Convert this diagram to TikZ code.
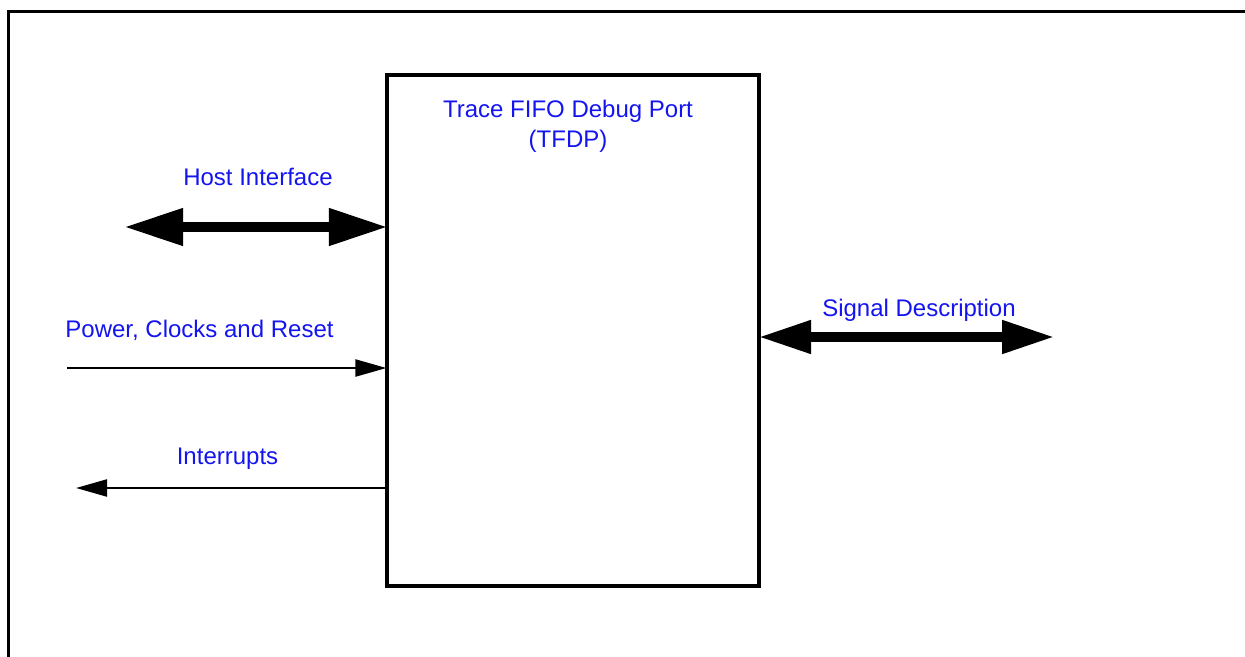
\documentclass[tikz,border=0pt]{standalone}
\usepackage{fontspec}
\setmainfont{Liberation Sans}
\usetikzlibrary{arrows.meta}
\definecolor{lblblue}{RGB}{20,20,240}
\tikzset{
  lbl/.style={text=lblblue, font=\fontsize{24}{29}\selectfont, inner sep=0pt, anchor=base},
  bigbus/.style={line width=10.5pt, arrows={Triangle[length=59pt,width=35pt]-Triangle[length=59pt,width=35pt]}},
  thinsig/.style={line width=2.2pt, -{Triangle[length=31pt,width=17pt]}},
  blockbox/.style={draw, line width=3.2pt, minimum width=372pt, minimum height=511pt, inner sep=0pt},
  frameline/.style={line width=3pt}
}
\begin{document}
\begin{tikzpicture}[x=1pt,y=-1pt]
\useasboundingbox (0,0) rectangle (1245,656);
% outer frame (top and left edges)
\coordinate (fbl) at (8,660);
\coordinate (ftl) at (8,11);
\coordinate (ftr) at (1250,11);
\draw[frameline] (fbl) -- (ftl) -- (ftr);
% main block
\node[blockbox] (tfdp) at (573,330.5) {};
\node[lbl] (title1) at (568,117) {Trace FIFO Debug Port};
\node[lbl] (title2) at (568,147) {(TFDP)};
% host interface
\coordinate (hostL) at (124,227);
\draw[bigbus, shorten >=-2.5pt] (hostL) -- (tfdp.west |- hostL);
\node[lbl] (hostlbl) at (258,185) {Host Interface};
% power, clocks and reset
\coordinate (pwrL) at (67,368);
\draw[thinsig, shorten >=-1pt] (pwrL) -- (tfdp.west |- pwrL);
\node[lbl] (pwrlbl) at (199.5,337) {Power, Clocks and Reset};
% interrupts
\coordinate (intL) at (76,488);
\draw[thinsig] (tfdp.west |- intL) -- (intL);
\node[lbl] (intlbl) at (227.5,464) {Interrupts};
% signal description
\coordinate (sigR) at (1055,337);
\draw[bigbus, shorten <=-2.5pt, arrows={Triangle[length=53pt,width=31pt]-Triangle[length=53pt,width=31pt]}] (tfdp.east |- sigR) -- (sigR);
\node[lbl] (siglbl) at (919,316) {Signal Description};
\end{tikzpicture}
\end{document}
